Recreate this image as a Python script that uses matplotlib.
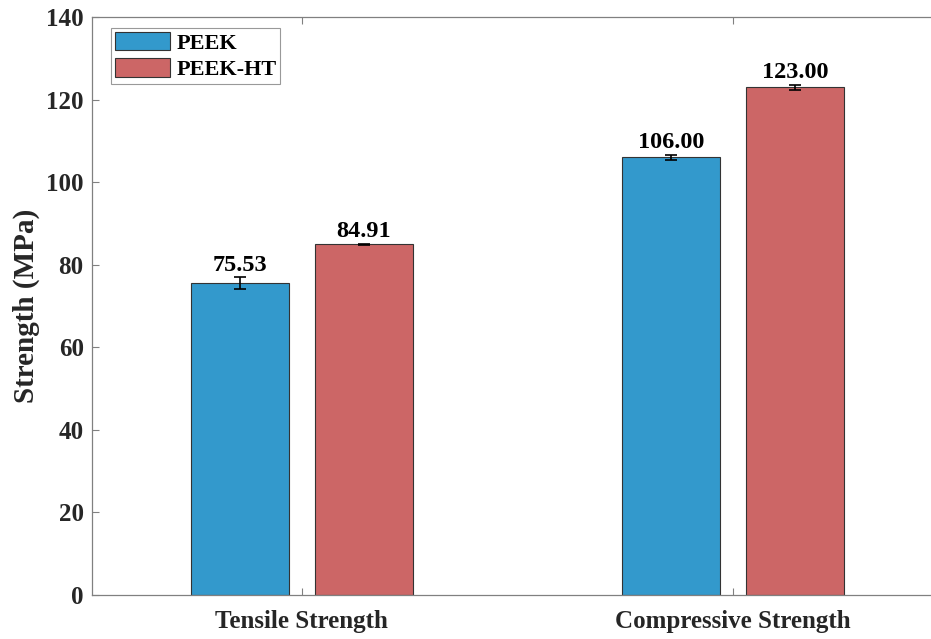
import matplotlib.pyplot as plt
import numpy as np

# data
categories = ['Tensile Strength', 'Compressive Strength']
series = ['PEEK', 'PEEK-HT']
peek = [75.53, 106.00]
peek_ht = [84.91, 123.00]
peek_err = [1.5, 0.6]
peek_ht_err = [0.2, 0.6]

colors = ['#3399CC', '#CC6666']

plt.rcParams['font.family'] = 'Liberation Serif'
plt.rcParams['font.weight'] = 'bold'

fig = plt.figure(figsize=(9.31, 6.39), dpi=100)
ax = fig.add_axes([0.0988, 0.0689, 0.914, 0.9045])

x = np.arange(1, len(categories) + 1)
width = 0.227
offset = 0.144

for vals, errs, off, col, name in [(peek, peek_err, -offset, colors[0], series[0]),
                                   (peek_ht, peek_ht_err, offset, colors[1], series[1])]:
    ax.bar(x + off, vals, width, color=col, edgecolor='#333333', linewidth=0.8, label=name)
    ax.errorbar(x + off, vals, yerr=errs, fmt='none', ecolor='black',
                elinewidth=1.2, capsize=4, capthick=1.2)
    for xi, v, e in zip(x + off, vals, errs):
        ax.annotate(f'{v:.2f}', (xi, v + e), xytext=(0, 1), textcoords='offset points',
                    ha='center', va='bottom', fontsize=17.5, fontweight='bold')

ax.set_xlim(0.513, 2.487)
ax.set_ylim(0, 140)
ax.set_yticks(range(0, 141, 20))
ax.set_xticks(x)
ax.set_xticklabels(categories, fontsize=18, fontweight='bold', color='#262626')
ax.tick_params(axis='y', labelsize=18, labelcolor='#262626', pad=6)
ax.tick_params(direction='in', top=True, right=True, length=5, width=0.8, color='#808080')
ax.tick_params(axis='x', pad=11)
for s in ax.spines.values():
    s.set_color('#808080')
    s.set_linewidth(0.9)

ax.set_ylabel('Strength (MPa)', fontsize=21, fontweight='bold', color='#262626', labelpad=4)

leg = ax.legend(loc='upper left', bbox_to_anchor=(0.022, 0.981), fontsize=16, frameon=True,
                fancybox=False, edgecolor='#808080', borderaxespad=0, handlelength=2.5,
                handleheight=0.9, handletextpad=0.27, borderpad=0.18, labelspacing=0.2)
leg.get_frame().set_linewidth(0.8)

fig.savefig('out.png', dpi=100)
